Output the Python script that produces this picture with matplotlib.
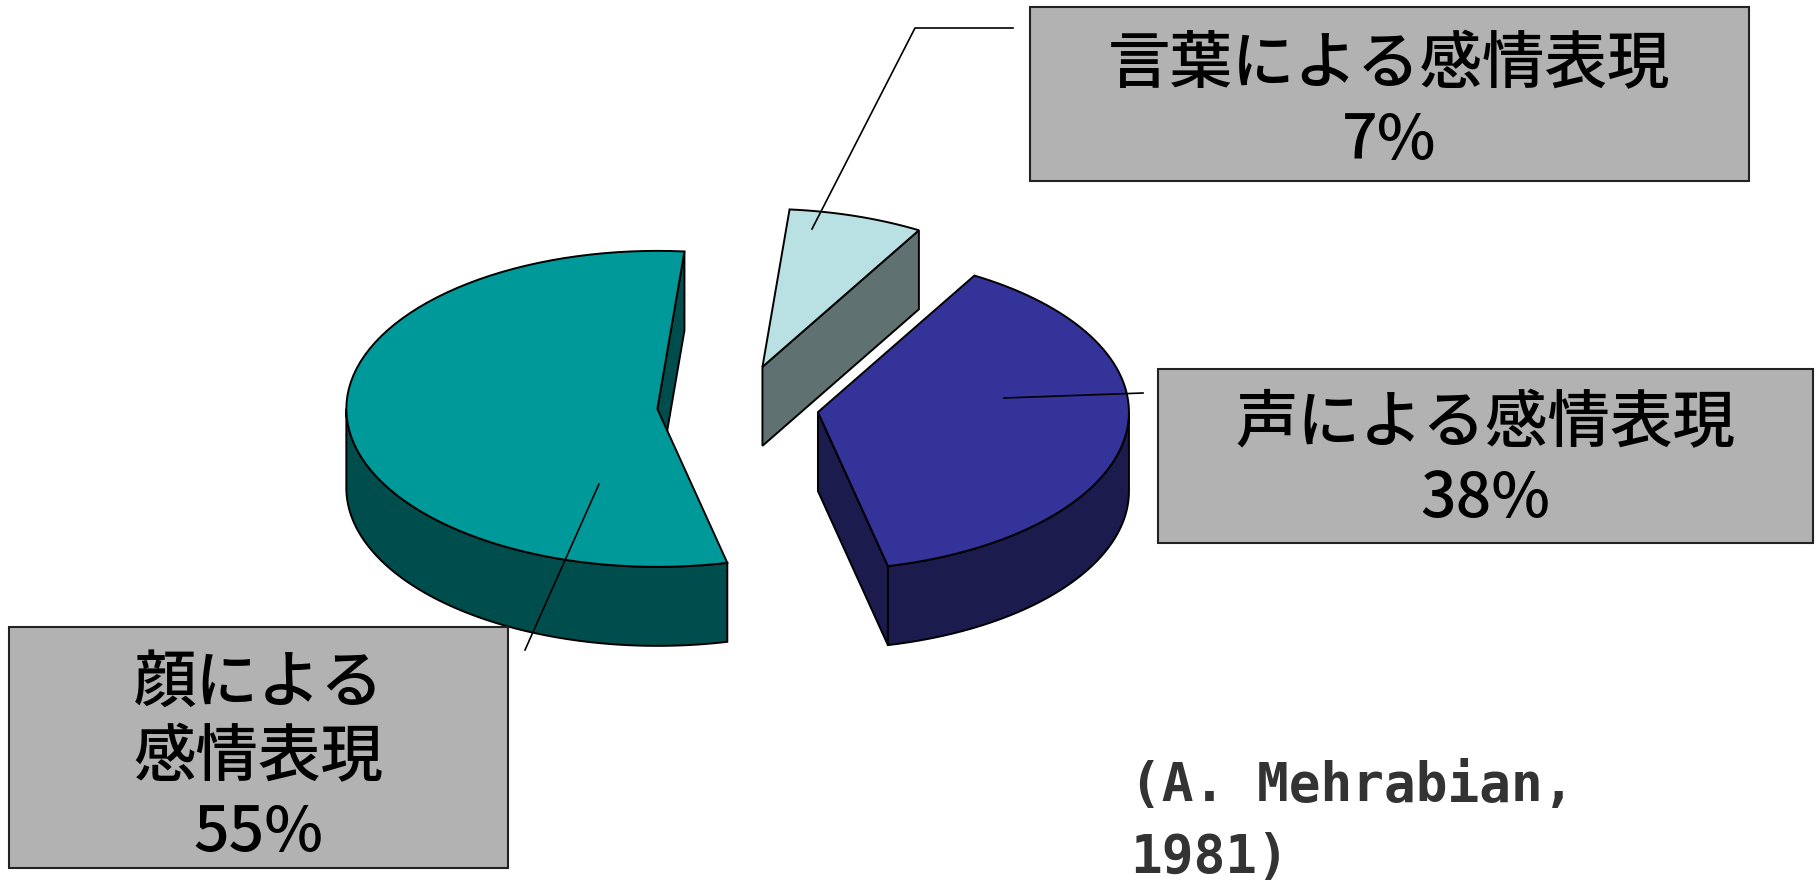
import numpy as np
import matplotlib.pyplot as plt
from matplotlib.patches import Polygon, Rectangle

plt.rcParams['font.family'] = ['Noto Sans CJK JP', 'DejaVu Sans']

# data
labels = ['言葉による感情表現', '声による感情表現', '顔による\n感情表現']
values = [7, 38, 55]
source_lines = ['(A. Mehrabian,', '1981)']

# colours
top_colors = ['#B9E0E3', '#333399', '#009999']
side_colors = ['#5F7171', '#1B1B4D', '#004D4D']
box_color = '#B2B2B2'

# pie layout (pixels)
cx, cy = 738, 406
rx, ry = 311, 158
depth = 79
explode = 0.26
start = 5

# label boxes (x0, y0, x1, y1), first text line y, leader polylines
boxes = [(1030, 7, 1749, 181), (1158, 369, 1813, 543), (9, 627, 508, 868)]
first_line_y = [66, 425, 684]
line_gap = 75
leaders = [[(812, 229), (915, 28), (1013, 28)],
           [(1004, 398), (1143, 393)],
           [(599, 484), (525, 650)]]

fig = plt.figure(figsize=(18.2, 8.83), dpi=100)
ax = fig.add_axes([0, 0, 1, 1])
ax.set_xlim(0, 1820)
ax.set_ylim(883, 0)
ax.axis('off')


def arc(x0, y0, a0, a1, dy=0, n=80):
    t = np.radians(np.linspace(a0, a1, n))
    return np.column_stack([x0 + rx * np.sin(t), y0 - ry * np.cos(t) + dy])


angles = start + 360 * np.concatenate([[0], np.cumsum(values)]) / sum(values)
lw = 1.4

slices = []
for i in range(len(values)):
    a0, a1 = angles[i], angles[i + 1]
    mid = np.radians((a0 + a1) / 2)
    px = cx + explode * rx * np.sin(mid)
    py = cy - explode * ry * np.cos(mid)
    slices.append((py, i, a0, a1, px))

# back to front
for py, i, a0, a1, px in sorted(slices):
    apex = np.array([[px, py]])
    # radial cut faces
    for ang, visible in [(a1, np.sin(np.radians(a1)) > 1e-6),
                         (a0, np.sin(np.radians(a0)) < -1e-6)]:
        if visible:
            e = arc(px, py, ang, ang, n=1)[0]
            face = [(px, py), tuple(e), (e[0], e[1] + depth), (px, py + depth)]
            ax.add_patch(Polygon(face, closed=True, fc=side_colors[i], ec='black', lw=lw))
    # outer wall on the front half
    lo, hi = max(a0, 90), min(a1, 270)
    if hi > lo:
        upper = arc(px, py, lo, hi)
        lower = arc(px, py, hi, lo, dy=depth)
        ax.add_patch(Polygon(np.vstack([upper, lower]), closed=True,
                             fc=side_colors[i], ec='black', lw=lw))
    # top face
    top = np.vstack([apex, arc(px, py, a0, a1)])
    ax.add_patch(Polygon(top, closed=True, fc=top_colors[i], ec='black', lw=lw))

# leader lines
for pts in leaders:
    xs, ys = zip(*pts)
    ax.plot(xs, ys, color='black', lw=1.2)

# label boxes
for i, (x0, y0, x1, y1) in enumerate(boxes):
    ax.add_patch(Rectangle((x0, y0), x1 - x0, y1 - y0, fc=box_color, ec='#222222', lw=1.5))
    lines = labels[i].split('\n') + [f'{values[i]}%']
    for k, s in enumerate(lines):
        ax.text((x0 + x1) / 2, first_line_y[i] + k * line_gap, s,
                ha='center', va='center', fontsize=45, fontweight='medium', color='black')

# source
for k, s in enumerate(source_lines):
    ax.text(1130, 786 + k * 72, s, ha='left', va='center', fontsize=38,
            family='DejaVu Sans Mono', fontweight='bold', color='#333333')

fig.savefig('out.png', dpi=100)
